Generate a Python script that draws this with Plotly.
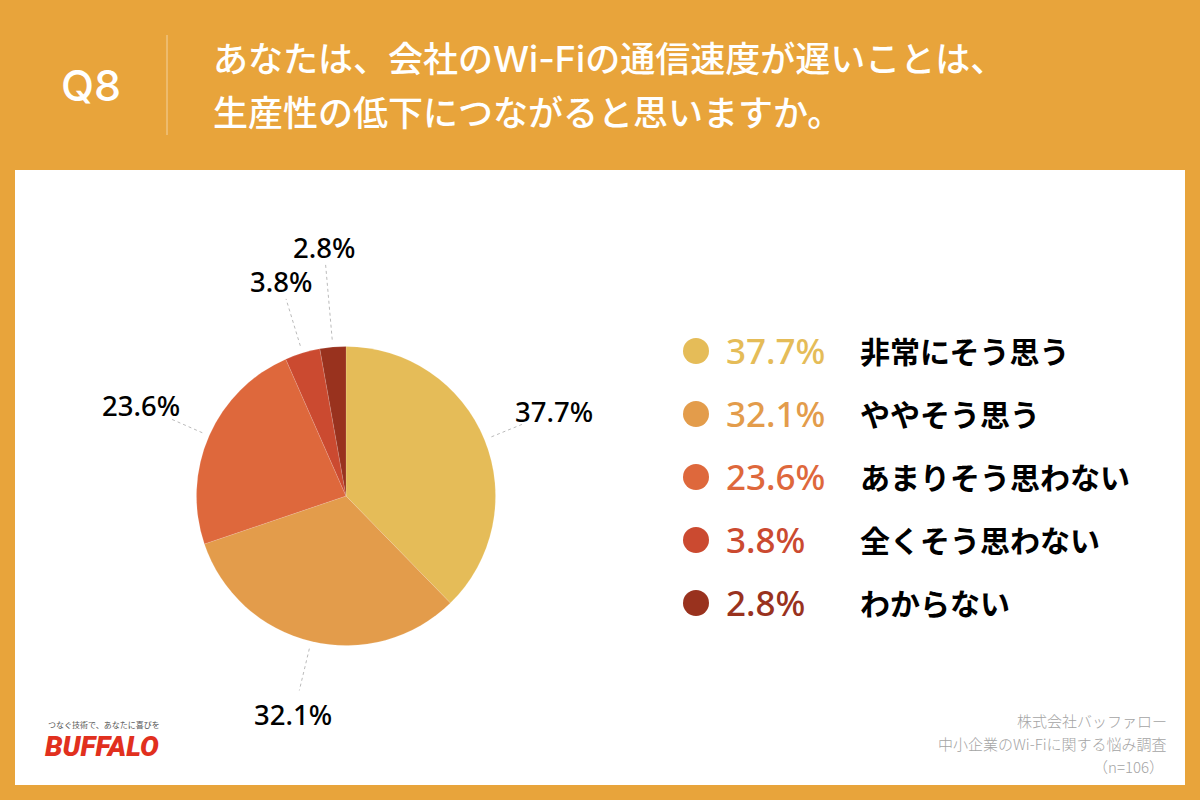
import numpy as np
import plotly.graph_objects as go

# データ
categories = ["非常にそう思う", "ややそう思う", "あまりそう思わない", "全くそう思わない", "わからない"]
values = [37.7, 32.1, 23.6, 3.8, 2.8]
colors = ["#E5BC58", "#E39C4B", "#DE683C", "#CB4A30", "#99321E"]
title_lines = [
    'あなたは、会社の<span style="font-family:Inter;font-size:36px">Wi-Fi</span>の通信速度が遅いことは、',
    "生産性の低下につながると思いますか。",
]
source_lines = ["株式会社バッファロー", "中小企業のWi-Fiに関する悩み調査", "（n=106）"]

# leader length and label offset per slice (px)
leader_end = [190, 200, 190, 206, 232]
label_dx = [32, -6, -31, -5, -2]
label_dy = [-13, 24, -14, -17, -17]

ORANGE = "#E8A43B"
JP = "Noto Sans CJK JP"
LATIN = "Noto Sans"
CX, CY, R = 346, 496, 149.5

fig = go.Figure()

fig.add_trace(
    go.Pie(
        labels=categories,
        values=values,
        sort=False,
        direction="clockwise",
        rotation=0,
        textinfo="none",
        showlegend=False,
        marker=dict(colors=colors, line=dict(color="rgba(255,255,255,0.25)", width=0.5)),
        domain=dict(x=[(CX - R) / 1200, (CX + R) / 1200], y=[1 - (CY + R) / 800, 1 - (CY - R) / 800]),
    )
)

annotations = []


def add_text(x, y, text, size, color="#000000", anchor="center", family=LATIN, weight=None):
    annotations.append(
        dict(
            x=x, y=y, xref="x", yref="y", text=text, showarrow=False,
            xanchor=anchor, yanchor="middle",
            font=dict(size=size, color=color, family=family, weight=weight),
        )
    )


# leader lines + outside labels
mids = (np.cumsum(values) - np.array(values) / 2) / sum(values) * 2 * np.pi
for i, mid in enumerate(mids):
    x0, y0 = CX + 157 * np.sin(mid), CY - 157 * np.cos(mid)
    x1, y1 = CX + leader_end[i] * np.sin(mid), CY - leader_end[i] * np.cos(mid)
    fig.add_trace(
        go.Scatter(
            x=[x0, x1], y=[y0, y1], mode="lines", showlegend=False,
            line=dict(color="#A8A8A8", width=0.8, dash="dot"), hoverinfo="skip",
        )
    )
    add_text(x1 + label_dx[i], y1 + label_dy[i], f"{values[i]}%", 27.5, weight=500)

# legend rows
for i, (cat, val) in enumerate(zip(categories, values)):
    row_y = 351 + i * 63
    fig.add_trace(
        go.Scatter(
            x=[696], y=[row_y], mode="markers", showlegend=False, hoverinfo="skip",
            marker=dict(size=26, color=colors[i]),
        )
    )
    add_text(724, row_y - 1, f"{val}%", 35, color=colors[i], anchor="left", weight=500)
    add_text(858, row_y - 1, cat, 30, anchor="left", family=JP, weight=700)

# header
add_text(91, 85, "Q8", 43, color="#FFFFFF", family="Inter", weight=500)
add_text(211, 56, title_lines[0], 35, color="#FFFFFF", anchor="left", family=JP, weight=500)
add_text(211, 110, title_lines[1], 35, color="#FFFFFF", anchor="left", family=JP, weight=500)

# source note
add_text(1169, 720, source_lines[0], 15, color="#A4A4A4", anchor="right", family=JP, weight=300)
add_text(1169, 743, source_lines[1], 15, color="#A4A4A4", anchor="right", family=JP, weight=300)
add_text(1166, 766, source_lines[2], 15, color="#A4A4A4", anchor="right", family=JP, weight=300)

# logo
add_text(104, 724, "つなぐ技術で、あなたに喜びを", 8, color="#555555", family=JP)
add_text(102, 746, "<i>BUFFALO</i>", 28, color="#E1301E", family="Roboto", weight=900)

fig.update_layout(
    width=1200,
    height=800,
    margin=dict(l=0, r=0, t=0, b=0),
    paper_bgcolor=ORANGE,
    plot_bgcolor=ORANGE,
    xaxis=dict(range=[0, 1200], visible=False, fixedrange=True),
    yaxis=dict(range=[800, 0], visible=False, fixedrange=True),
    annotations=annotations,
    shapes=[
        dict(type="rect", xref="x", yref="y", x0=15, x1=1185, y0=170, y1=785,
             fillcolor="#FFFFFF", line_width=0, layer="below"),
        dict(type="line", xref="x", yref="y", x0=167, x1=167, y0=35, y1=135,
             line=dict(color="#F3D29F", width=1)),
    ],
)

# body margin would shift the whole picture by 8px
fig.write_html(
    "out.html",
    config={"displayModeBar": False},
    post_script="document.body.style.margin='0';document.body.style.overflow='hidden';",
)
